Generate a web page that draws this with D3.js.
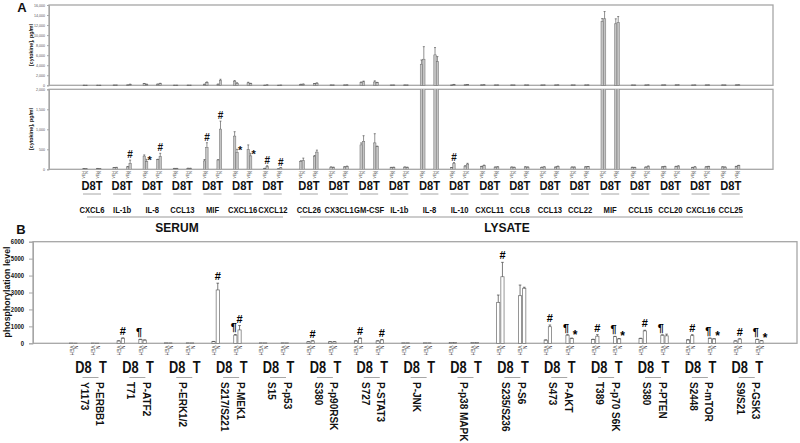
<!DOCTYPE html>
<html><head><meta charset="utf-8">
<script src="https://cdn.jsdelivr.net/npm/d3@7"></script>
<style>
body{margin:0;background:#fff}
svg{display:block}
text{font-family:"Liberation Sans",Arial,sans-serif}
</style>
</head><body>
<svg id="c" width="800" height="443"></svg>
<script>
// ---------------- DATA ----------------
const seriesA = ["D8 VEH", "D8 N", "T VEH", "T N"];
const seriesLabels = ["VEH", "N", "VEH", "N"];

const serumGroups = ["CXCL6", "IL-1b", "IL-8", "CCL13", "MIF", "CXCL16", "CXCL12"];
const serumValues = [[15,12,18,12],[40,45,60,150],[330,190,240,320],[20,20,25,25],[210,545,235,1005],[830,420,490,335],[20,65,10,35]];
const serumErrors = [[3,2,3,2],[5,5,10,80],[30,60,10,80],[3,3,3,3],[35,120,5,200],[110,80,120,65],[5,25,3,8]];

const lysateGroups = ["CCL26", "CX3CL1", "GM-CSF", "IL-1b", "IL-8", "IL-10", "CXCL11", "CCL8", "CCL13", "CCL22", "MIF", "CCL15", "CCL20", "CXCL16", "CCL25"];
const lysateValues = [[195,215,325,430],[55,50,60,70],[610,700,660,570],[45,50,55,50],[4200,5200,6060,4720],[40,140,80,130],[70,95,55,60],[55,50,60,55],[50,60,55,70],[55,55,60,65],[12700,13250,12250,12500],[50,45,55,75],[60,70,70,80],[45,60,60,70],[60,55,70,90]];
const lysateErrors = [[20,65,20,50],[5,5,5,10],[50,140,230,10],[5,5,5,5],[850,2500,1460,1000],[5,30,10,20],[5,10,5,5],[5,5,5,5],[5,5,5,10],[5,5,5,5],[600,1450,1000,1200],[5,5,5,10],[5,5,5,10],[5,5,5,5],[5,5,5,10]];

const ticksTopA = [0,2000,4000,6000,8000,10000,12000,14000,16000];
const ticksBottomA = [0,500,1000,1500,2000];

// annotations panel A: set, group index, bar index, symbol
const marksA = [
  ["serum",1,3,"#"],["serum",2,1,"*"],["serum",2,3,"#"],["serum",4,1,"#"],["serum",4,3,"#"],
  ["serum",5,1,"*"],["serum",5,3,"*"],["serum",6,1,"#"],["serum",6,3,"#"],["lysate",5,1,"#"]
];

const groupsB = [["P-ERBB1","Y1173"],["P-ATF2","T71"],["P-ERK1/2"],["P-MEK1","S217/S221"],["P-p53","S15"],["P-p90RSK","S380"],["P-STAT3","S727"],["P-JNK"],["P-p38 MAPK"],["P-S6","S235/S236"],["P-AKT","S473"],["P-p70 S6K","T389"],["P-PTEN","S380"],["P-mTOR","S2448"],["P-GSK3","S9/S21"]];
const valuesB = [[15,10,15,10],[140,300,230,190],[30,25,30,25],[100,3150,480,790],[30,25,30,25],[90,140,90,90],[140,290,140,200],[30,30,30,30],[50,55,55,55],[2420,3930,2810,3250],[190,980,480,290],[230,420,390,260],[290,730,480,440],[200,450,300,260],[140,250,230,150]];
const errorsB = [[0,0,0,0],[10,20,10,10],[0,0,0,0],[10,400,40,260],[0,0,0,0],[5,10,5,5],[10,30,10,20],[0,0,0,0],[0,0,0,0],[430,850,630,60],[10,100,30,20],[10,90,20,20],[10,40,20,100],[10,60,10,10],[5,20,10,10]];
const ticksB = [0,1000,2000,3000,4000,5000,6000];
const marksB = [
  [1,1,"#"],[1,2,"¶"],[3,1,"#"],[3,2,"¶"],[3,3,"#"],[5,1,"#"],[6,1,"#"],[6,3,"#"],[9,1,"#"],
  [10,1,"#"],[10,2,"¶"],[10,3,"*"],[11,1,"#"],[11,2,"¶"],[11,3,"*"],[12,1,"#"],[12,2,"¶"],
  [13,1,"#"],[13,2,"¶"],[13,3,"*"],[14,1,"#"],[14,2,"¶"],[14,3,"*"]
];

// ---------------- DRAW ----------------
const svg = d3.select("#c");
const frame = "#a6a6a6", txt = "#111";

function ctext(g, x, y, s, size, opts = {}) {
  return g.append("text")
    .attr("transform", `translate(${x},${y}) scale(${opts.sx || 1},1)` + (opts.rot ? ` rotate(${opts.rot})` : ""))
    .attr("font-size", size).attr("font-weight", opts.weight || "bold")
    .attr("text-anchor", opts.anchor || "middle").attr("fill", opts.fill || txt).text(s);
}

// ---- Panel A ----
const rows = [];
serumGroups.forEach((g, i) => rows.push({set: "serum", name: g, slot: i, v: serumValues[i], e: serumErrors[i]}));
lysateGroups.forEach((g, j) => rows.push({set: "lysate", name: g, slot: serumGroups.length + 0.2 + j, v: lysateValues[j], e: lysateErrors[j]}));

const xA = d3.scaleLinear().domain([0, 21.2]).range([92, 730.7]);
const subA = d3.scaleOrdinal().domain(seriesA).range([-8, -5.6, 5.6, 8]);
const bwA = 2.4;
const xL = 49, xR = 773;
const yTop = d3.scaleLinear().domain([0, 16000]).range([85.3, 5]);
const yBot = d3.scaleLinear().domain([0, 2000]).range([169.3, 89.3]);

svg.append("defs").append("clipPath").attr("id", "clipBot")
  .append("rect").attr("x", xL).attr("y", 89.3).attr("width", xR - xL).attr("height", 80);

const bars = [];
rows.forEach(r => r.v.forEach((v, k) => bars.push({r, k, v, e: r.e[k], s: seriesA[k]})));

function drawPanelA(y, clip, tickVals) {
  const g = svg.append("g");
  g.append("rect").attr("x", xL).attr("y", y.range()[1]).attr("width", xR - xL)
    .attr("height", y.range()[0] - y.range()[1]).attr("fill", "none").attr("stroke", frame).attr("stroke-width", 1.3);
  const ax = g.append("g").attr("transform", `translate(${xL},0)`)
    .call(d3.axisLeft(y).tickValues(tickVals).tickSize(2).tickPadding(2));
  ax.select(".domain").attr("stroke", frame);
  ax.selectAll("line").attr("stroke", frame);
  ax.selectAll("text").attr("font-size", 3.6).attr("fill", "#555").attr("font-weight", "normal");
  const gb = g.append("g");
  if (clip) gb.attr("clip-path", "url(#clipBot)");
  gb.selectAll("rect.b").data(bars).join("rect").attr("class", "b")
    .attr("x", d => xA(d.r.slot) + subA(d.s) - bwA / 2).attr("width", bwA)
    .attr("y", d => y(d.v)).attr("height", d => y(0) - y(d.v))
    .attr("fill", "#c4c4c4").attr("stroke", "#6e6e6e").attr("stroke-width", 0.5);
  const eb = gb.selectAll("g.e").data(bars.filter(d => d.e > 0)).join("g").attr("class", "e")
    .attr("stroke", "#444").attr("stroke-width", 0.6);
  eb.append("line").attr("x1", d => xA(d.r.slot) + subA(d.s)).attr("x2", d => xA(d.r.slot) + subA(d.s))
    .attr("y1", d => y(d.v)).attr("y2", d => y(d.v + d.e));
  eb.append("line").attr("x1", d => xA(d.r.slot) + subA(d.s) - 1).attr("x2", d => xA(d.r.slot) + subA(d.s) + 1)
    .attr("y1", d => y(d.v + d.e)).attr("y2", d => y(d.v + d.e));
  return g;
}
drawPanelA(yTop, false, ticksTopA);
drawPanelA(yBot, true, ticksBottomA);

ctext(svg, 33, 45, "[cytokine], pg/ml", 5.3, {rot: -90});
ctext(svg, 33, 129, "[cytokine], pg/ml", 5.3, {rot: -90});
ctext(svg, 22, 12, "A", 13, {});

bars.forEach(d => {
  const x = xA(d.r.slot) + subA(d.s);
  svg.append("text").attr("transform", `translate(${x + 1.3},171.2) rotate(-90)`)
    .attr("font-size", 3.6).attr("text-anchor", "end").attr("fill", "#222").text(seriesLabels[d.k]);
});
rows.forEach(r => {
  const c = xA(r.slot);
  ctext(svg, c, 190, "D8T", 13, {sx: 0.86});
  svg.append("line").attr("x1", c - 9).attr("x2", c + 9).attr("y1", 194).attr("y2", 194)
    .attr("stroke", frame).attr("stroke-width", 1);
  ctext(svg, c, 212.5, r.name, 8.3, {sx: 0.92});
});
marksA.forEach(([set, gi, bi, s]) => {
  const r = rows.find(q => q.set === set && q.name === (set === "serum" ? serumGroups[gi] : lysateGroups[gi]));
  const top = Math.min(yBot(r.v[bi] + r.e[bi]), yBot(r.v[bi]));
  const x = xA(r.slot) + subA(seriesA[bi]);
  if (s === "*") ctext(svg, x + 3, top + 5, s, 11, {});
  else ctext(svg, x, top - 2, s, 10, {});
});
svg.append("line").attr("x1", 87).attr("x2", 283).attr("y1", 217).attr("y2", 217).attr("stroke", "#bbb").attr("stroke-width", 1.5);
svg.append("line").attr("x1", 300).attr("x2", 743).attr("y1", 217).attr("y2", 217).attr("stroke", "#bbb").attr("stroke-width", 1.5);
ctext(svg, 177, 232, "SERUM", 12, {});
ctext(svg, 507, 232, "LYSATE", 12, {});

// ---- Panel B ----
const xB = d3.scaleLinear().domain([0, groupsB.length - 1]).range([84.2, 748.5]);
const xBL = d3.scaleLinear().domain([0, groupsB.length - 1]).range([92.5, 748.75]);
const subB = d3.scaleOrdinal().domain(seriesA).range([-13, -8.8, 8.8, 13]);
const bwB = 3.2;
const yB = d3.scaleLinear().domain([0, 6000]).range([343.3, 241.7]);
const bL = 33, bR = 797;

svg.append("rect").attr("x", bL).attr("y", yB(6000)).attr("width", bR - bL).attr("height", yB(0) - yB(6000))
  .attr("fill", "none").attr("stroke", frame).attr("stroke-width", 1.3);
const axB = svg.append("g").attr("transform", `translate(${bL},0)`)
  .call(d3.axisLeft(yB).tickValues(ticksB).tickSize(4).tickFormat(""));
axB.select(".domain").attr("stroke", frame);
axB.selectAll("line").attr("stroke", frame);
ticksB.forEach(t => ctext(svg, 24, yB(t) + 2.6, d3.format("d")(t), 7.4, {sx: 0.8, anchor: "end"}));
ctext(svg, 10, 292, "phosphorylation level", 8.8, {rot: -90});
ctext(svg, 21, 234, "B", 13, {});

const barsB = [];
groupsB.forEach((g, i) => valuesB[i].forEach((v, k) => barsB.push({i, k, v, e: errorsB[i][k], s: seriesA[k]})));
svg.append("g").selectAll("rect").data(barsB).join("rect")
  .attr("x", d => xB(d.i) + subB(d.s) - bwB / 2).attr("width", bwB)
  .attr("y", d => yB(d.v)).attr("height", d => yB(0) - yB(d.v))
  .attr("fill", "#fff").attr("stroke", "#6a6a6a").attr("stroke-width", 0.7);
const ebB = svg.append("g").selectAll("g").data(barsB.filter(d => d.e > 0)).join("g")
  .attr("stroke", "#444").attr("stroke-width", 0.7);
ebB.append("line").attr("x1", d => xB(d.i) + subB(d.s)).attr("x2", d => xB(d.i) + subB(d.s))
  .attr("y1", d => yB(d.v)).attr("y2", d => yB(d.v + d.e));
ebB.append("line").attr("x1", d => xB(d.i) + subB(d.s) - 1.3).attr("x2", d => xB(d.i) + subB(d.s) + 1.3)
  .attr("y1", d => yB(d.v + d.e)).attr("y2", d => yB(d.v + d.e));

barsB.forEach(d => {
  const x = xB(d.i) + subB(d.s);
  svg.append("text").attr("transform", `translate(${x - 1.6},345.5) rotate(90)`)
    .attr("font-size", 4.8).attr("fill", "#222").text(seriesLabels[d.k]);
});
groupsB.forEach((lines, i) => {
  const c = xBL(i);
  ctext(svg, c - 9, 373, "D8", 16, {sx: 0.8});
  ctext(svg, c + 10.5, 373, "T", 16, {sx: 0.8});
  svg.append("line").attr("x1", c - 10).attr("x2", c + 6).attr("y1", 377.5).attr("y2", 377.5)
    .attr("stroke", frame).attr("stroke-width", 1);
  if (lines.length === 2) {
    ctext(svg, c + 3.5, 382, lines[0], 10, {rot: 90, anchor: "start"});
    ctext(svg, c - 12, 382, lines[1], 10, {rot: 90, anchor: "start"});
  } else {
    ctext(svg, c - 7.5, 382, lines[0], 10, {rot: 90, anchor: "start"});
  }
});
marksB.forEach(([gi, bi, s]) => {
  const x = xB(gi) + subB(seriesA[bi]);
  const top = yB(valuesB[gi][bi] + errorsB[gi][bi]);
  if (s === "*") ctext(svg, x + 3.5, top + 1, s, 12, {fill: "#000"});
  else if (s === "¶") ctext(svg, x - 1.5, top - 3, s, 11, {fill: "#000"});
  else ctext(svg, x, top - 3, s, 11, {fill: "#000"});
});
</script>
</body></html>
